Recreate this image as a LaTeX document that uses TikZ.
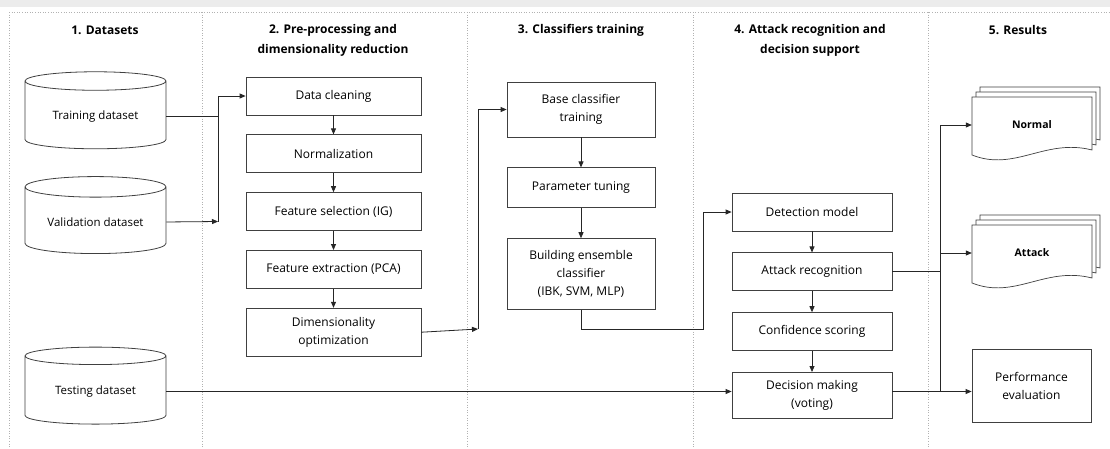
\documentclass[tikz,border=0pt]{standalone}
\usepackage{fontspec}
\setmainfont{Open Sans}
\usepackage{tikz}
\usetikzlibrary{shapes,arrows.meta,positioning,calc}

\begin{document}
\begin{tikzpicture}[x=1pt, y=-1pt,
    stepbox/.style={rectangle, draw=black!75, line width=0.8pt, minimum height=38pt, align=center, inner sep=2pt, font=\fontsize{12}{18}\selectfont},
    dbase/.style={cylinder, shape border rotate=90, aspect=0.2, draw=black!75, line width=0.8pt, minimum width=141pt, minimum height=77pt, font=\fontsize{11.5}{14}\selectfont},
    head/.style={align=center, font=\bfseries\fontsize{12}{20}\selectfont},
    doclbl/.style={minimum width=120pt, minimum height=56pt, font=\bfseries\fontsize{10.5}{12}\selectfont},
    divider/.style={gray!60, dotted, line width=0.6pt},
    link/.style={black!85, line width=0.8pt},
    arr/.style={link, -{Triangle[length=6pt, width=5pt]}},
    docpage/.pic={\draw[black!75, line width=0.7pt, fill=white] (-60,30) -- (-60,-28) -- (60,-28) -- (60,25) .. controls (13,13) and (-17,47) .. (-60,30) -- cycle;}]

    \fill[white] (0,0) rectangle (1110,448);
    \fill[gray!15] (0,0) rectangle (1110,7);
    \useasboundingbox (0,0) rectangle (1110,448);

    % Frame and columns
    \draw[divider] (9,12) -- (1110,12);
    \draw[divider] (9,12) -- (9,448);
    \foreach \xc in {202,467,693,928}
        \draw[divider] (\xc,12) -- (\xc,448);

    % Headers
    \node[head] (h1) at (105,30) {1. Datasets};
    \node[head] (h2) at (333,40) {2. Pre-processing and\\dimensionality reduction};
    \node[head] (h3) at (581,30) {3. Classifiers training};
    \node[head] (h4) at (810,40) {4. Attack recognition and\\decision support};
    \node[head] (h5) at (1018,30) {5. Results};

    % 1. Datasets
    \node[dbase] (train) at (95.5,116.5) {Training dataset};
    \node[dbase, below=27pt of train] (valid) {Validation dataset};
    \node[dbase] (test) at (95.5,391.5) {Testing dataset};

    % 2. Pre-processing
    \node[stepbox, minimum width=175pt] (clean) at (333.5,96) {Data cleaning};
    \node[stepbox, minimum width=175pt, below=19pt of clean] (norm) {Normalization};
    \node[stepbox, minimum width=175pt, below=19pt of norm] (fsel) {Feature selection (IG)};
    \node[stepbox, minimum width=175pt, below=19pt of fsel] (fext) {Feature extraction (PCA)};
    \node[stepbox, minimum width=175pt, minimum height=48pt, below=19pt of fext] (dimopt) {Dimensionality\\optimization};

    % 3. Classifiers
    \node[stepbox, minimum width=148pt, minimum height=55pt] (base) at (581,109.5) {Base classifier\\training};
    \node[stepbox, minimum width=148pt, minimum height=40pt, below=30pt of base] (param) {Parameter tuning};
    \node[stepbox, minimum width=148pt, minimum height=71pt, below=30pt of param] (ens) {Building ensemble\\classifier\\(IBK, SVM, MLP)};

    % 4. Attack recognition
    \node[stepbox, minimum width=160pt] (detect) at (812,212) {Detection model};
    \node[stepbox, minimum width=160pt, below=21pt of detect] (recog) {Attack recognition};
    \node[stepbox, minimum width=160pt, below=21pt of recog] (conf) {Confidence scoring};
    \node[stepbox, minimum width=160pt, minimum height=46pt, below=21pt of conf] (decide) {Decision making\\(voting)};

    % 5. Results
    \coordinate (normalc) at (1032,125);
    \pic at ($(normalc)+(8,-10)$) {docpage};
    \pic at ($(normalc)+(4,-5)$) {docpage};
    \pic at (normalc) {docpage};
    \node[doclbl] (normal) at (normalc) {Normal};
    \coordinate (attackc) at (1032,253);
    \pic at ($(attackc)+(8,-10)$) {docpage};
    \pic at ($(attackc)+(4,-5)$) {docpage};
    \pic at (attackc) {docpage};
    \node[doclbl] (attack) at (attackc) {Attack};
    \node[stepbox, minimum width=119pt, minimum height=73pt] (perf) at (1031.5,385.5) {Performance\\evaluation};

    % Connections
    \coordinate (jin) at (218,221.5);
    \draw[link] (train.east) -- (train.east -| jin);
    \draw[arr] (valid.east) -- (jin);
    \draw[arr] (jin) |- (clean.west);
    \draw[arr] (clean) -- (norm);
    \draw[arr] (norm) -- (fsel);
    \draw[arr] (fsel) -- (fext);
    \draw[arr] (fext) -- (dimopt);

    \coordinate (jmid) at (478,329);
    \draw[arr] (dimopt.east) -- (jmid);
    \draw[arr] (jmid) |- (base.west);
    \draw[arr] (base) -- (param);
    \draw[arr] (param) -- (ens);

    \coordinate (jout) at (703,329);
    \draw[arr] (ens.south) |- (jout) |- (detect.west);
    \draw[arr] (detect) -- (recog);
    \draw[arr] (recog) -- (conf);
    \draw[arr] (conf) -- (decide);
    \draw[arr] (test.east) -- (test.east -| decide.west);

    \coordinate (jtop) at (940,125);
    \coordinate (jbot) at (940,391.5);
    \draw[link] (jtop) -- (jbot);
    \draw[link] (recog.east) -- (recog.east -| jbot);
    \draw[link] (decide.east |- jbot) -- (jbot);
    \draw[arr] (jtop) -- (normal.west);
    \draw[arr] (attack.west -| jbot) -- (attack.west);
    \draw[arr] (jbot) -- (jbot -| perf.west);

\end{tikzpicture}
\end{document}
